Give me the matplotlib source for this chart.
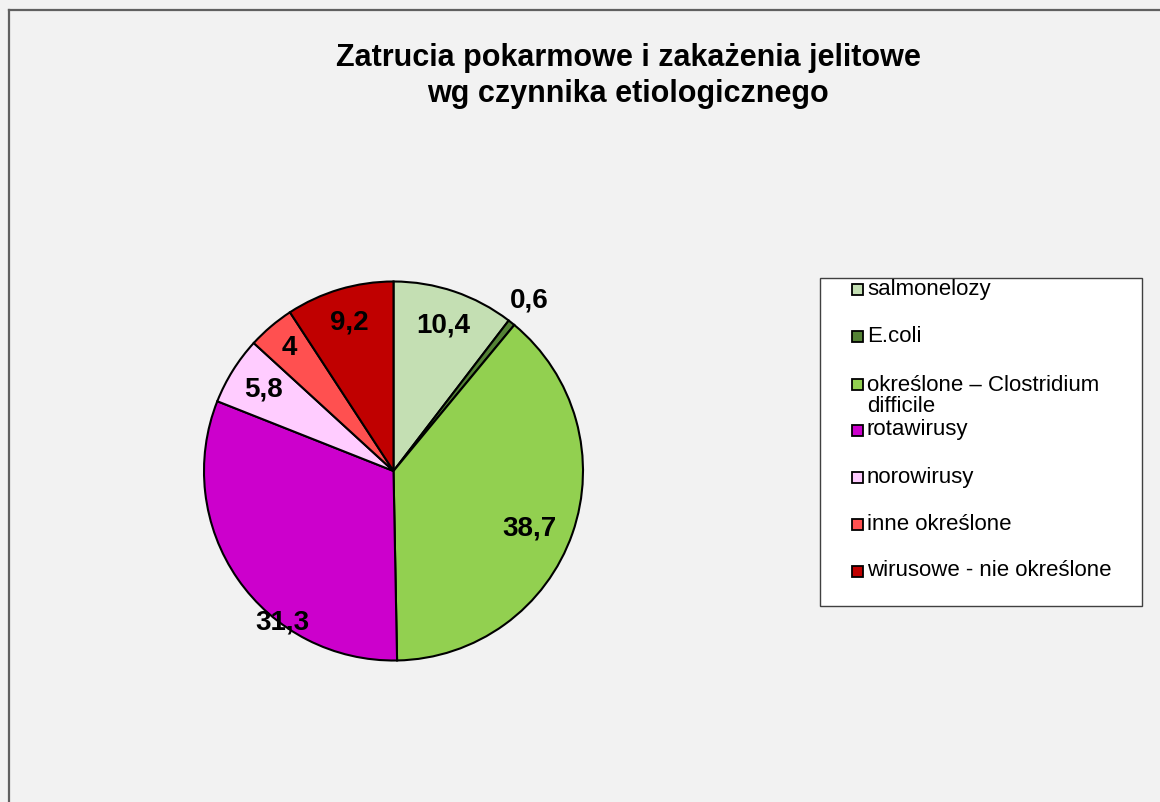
import numpy as np
import matplotlib
matplotlib.use("Agg")
import matplotlib.pyplot as plt
from matplotlib.patches import Rectangle
from matplotlib.lines import Line2D

plt.rcParams['font.family'] = ['Liberation Sans', 'DejaVu Sans']

# data
categories = ['salmonelozy', 'E.coli', 'określone – Clostridium\ndifficile', 'rotawirusy',
              'norowirusy', 'inne określone', 'wirusowe - nie określone']
values = [10.4, 0.6, 38.7, 31.3, 5.8, 4, 9.2]
value_labels = ['10,4', '0,6', '38,7', '31,3', '5,8', '4', '9,2']
colors = ['#c4dfb3', '#548235', '#92d050', '#cc00cc', '#ffccff', '#ff5050', '#c00000']

W, H = 1160, 802
fig = plt.figure(figsize=(W / 100, H / 100), dpi=100)
fig.patch.set_facecolor('#f2f2f2')

def fx(px):
    return px / W

def fy(py):
    return 1 - py / H

# chart border (only top and left visible)
fig.add_artist(Line2D([fx(8.5), 1], [fy(9.5), fy(9.5)], color='#606060', lw=1.6))
fig.add_artist(Line2D([fx(8.5), fx(8.5)], [fy(9.5), 0], color='#606060', lw=1.6))

fig.text(fx(628), fy(76), 'Zatrucia pokarmowe i zakażenia jelitowe\nwg czynnika etiologicznego',
         ha='center', va='center', fontsize=22, fontweight='bold', linespacing=1.3)

# pie
cx, cy, R = 393.5, 471, 189.5
ax = fig.add_axes([fx(cx - R), fy(cy + R), 2 * R / W, 2 * R / H])
wedges, _ = ax.pie(values, colors=colors, startangle=90, counterclock=False,
                   wedgeprops=dict(edgecolor='black', linewidth=1.5))
ax.set_xlim(-1, 1)
ax.set_ylim(-1, 1)
ax.set_aspect('equal')
ax.axis('off')

# label placement (radius factor, optional fixed angle)
label_r = [0.81, 1.15, 0.78, 0.99, 0.81, 0.85, 0.82]
label_ang = [None, None, -22.7, 233.7, None, None, None]
for w, lab, r, a in zip(wedges, value_labels, label_r, label_ang):
    ang = (w.theta1 + w.theta2) / 2 if a is None else a
    ax.text(r * np.cos(np.radians(ang)), r * np.sin(np.radians(ang)), lab,
            ha='center', va='center', fontsize=20, fontweight='bold')

# legend box drawn by hand
lx0, ly0, lx1, ly1 = 819.5, 277.5, 1142, 606
fig.add_artist(Rectangle((fx(lx0), fy(ly1)), fx(lx1) - fx(lx0), fy(ly0) - fy(ly1),
                         facecolor='white', edgecolor='#404040', lw=1.0))
row_y = [289, 336, 384, 430, 477, 524, 571]
sq = 11
for name, col, y in zip(categories, colors, row_y):
    fig.add_artist(Rectangle((fx(852), fy(y + sq / 2)), sq / W, sq / H,
                             facecolor=col, edgecolor='black', lw=1.3))
    ty = y + 12 if '\n' in name else y
    fig.text(fx(867), fy(ty), name, ha='left', va='center',
             fontsize=16, linespacing=1.0)

fig.savefig('out.png', dpi=100, facecolor=fig.get_facecolor())
